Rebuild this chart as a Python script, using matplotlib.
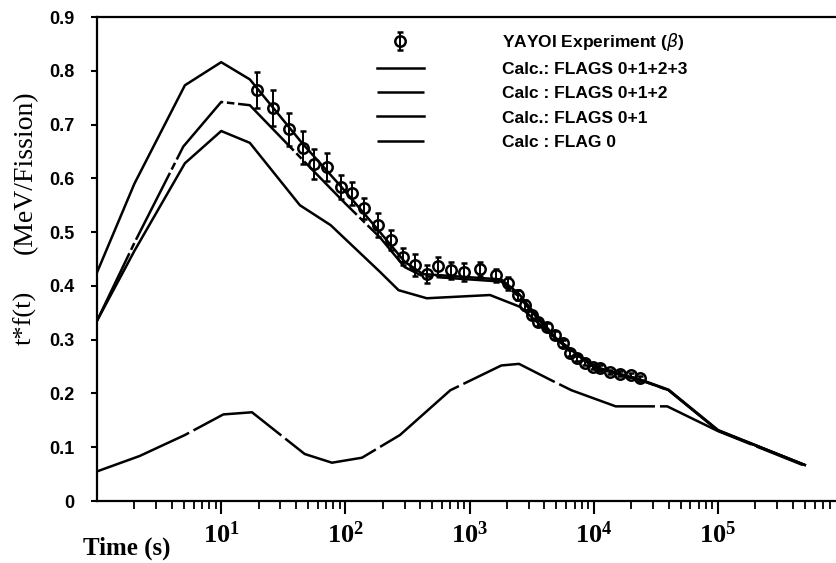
import numpy as np
import matplotlib
matplotlib.use("Agg")
import matplotlib.pyplot as plt
from matplotlib.ticker import LogLocator, NullFormatter, FuncFormatter, FixedLocator

# ---------------- data ----------------
exp_t = [19.4, 26, 35, 45.4, 56, 71, 92, 113, 142, 182, 232, 293, 364, 452, 561, 710, 903,
         1216, 1622, 2050, 2470, 2800, 3170, 3580, 4180, 4880, 5690, 6440, 7300, 8500, 9800,
         11200, 13500, 16200, 20000, 23500]
exp_y = [0.764, 0.731, 0.691, 0.657, 0.626, 0.621, 0.584, 0.572, 0.544, 0.513, 0.485, 0.454,
         0.439, 0.422, 0.437, 0.429, 0.426, 0.432, 0.420, 0.405, 0.383, 0.364, 0.346, 0.333,
         0.324, 0.309, 0.293, 0.275, 0.265, 0.257, 0.250, 0.247, 0.240, 0.237, 0.234, 0.228]
exp_err = [0.033, 0.033, 0.031, 0.031, 0.028, 0.026, 0.022, 0.021, 0.020, 0.022, 0.019, 0.016,
           0.020, 0.017, 0.017, 0.016, 0.016, 0.013, 0.012, 0.012, 0.010, 0.009, 0.008, 0.008,
           0.007, 0.007, 0.006, 0.006, 0.005, 0.005, 0.005, 0.005, 0.004, 0.004, 0.004, 0.004]

flags0123_t = [1, 2, 5.1, 10, 17, 45, 92, 182, 300, 420, 1800, 2500, 3000, 5000, 10000,
               25000, 40000, 100000, 500000]
flags0123_y = [0.425, 0.59, 0.773, 0.816, 0.784, 0.665, 0.585, 0.505, 0.445, 0.422, 0.412,
               0.385, 0.362, 0.302, 0.250, 0.224, 0.207, 0.132, 0.067]

flags012_t = [1, 2, 4.95, 10, 17, 45, 100, 190, 300, 420, 1800, 2500, 3000, 5000, 10000,
              25000, 40000, 100000, 500000]
flags012_y = [0.335, 0.48, 0.659, 0.742, 0.736, 0.635, 0.553, 0.49, 0.435, 0.418, 0.408,
              0.380, 0.358, 0.300, 0.249, 0.223, 0.206, 0.131, 0.067]

flags01_t = [1, 2, 5.1, 10, 17, 43, 76, 190, 268, 452, 1460, 2550, 4500, 10000, 25000,
             40000, 100000, 500000]
flags01_y = [0.335, 0.465, 0.628, 0.688, 0.666, 0.55, 0.513, 0.426, 0.392, 0.377, 0.383,
             0.361, 0.310, 0.249, 0.223, 0.206, 0.131, 0.067]

flag0_t = [1, 2.2, 5.1, 10.4, 17.7, 47, 78, 136, 275, 700, 1800, 2500, 4500, 6600, 15000,
           39000, 100000, 480000]
flag0_y = [0.055, 0.0836, 0.1227, 0.161, 0.165, 0.0874, 0.0712, 0.0805, 0.1227, 0.206,
           0.252, 0.255, 0.225, 0.206, 0.176, 0.176, 0.130, 0.067]

labels = ["YAYOI Experiment ($\\beta$)", "Calc.: FLAGS 0+1+2+3", "Calc : FLAGS 0+1+2",
          "Calc.: FLAGS 0+1", "Calc : FLAG 0"]
yticks = [0, 0.1, 0.2, 0.3, 0.4, 0.5, 0.6, 0.7, 0.8, 0.9]
xticks = [1e1, 1e2, 1e3, 1e4, 1e5]

# ---------------- figure ----------------
W, H = 836, 563
fig = plt.figure(figsize=(W / 100, H / 100), dpi=100)
ax = fig.add_axes([97 / W, (H - 501) / H, (W - 97) / W, (501 - 17) / H])
ax.set_xscale("log")
ax.set_xlim(1, 10 ** 5.95)
ax.set_ylim(0, 0.9)

lw = 1.8
l1, = ax.plot(flags0123_t, flags0123_y, color="black", lw=lw, ls="-")
l2, = ax.plot(flags012_t, flags012_y, color="black", lw=lw, dashes=(30, 1.5, 3, 1.5))
l3, = ax.plot(flags01_t, flags01_y, color="black", lw=lw, ls="-")
l4, = ax.plot(flag0_t, flag0_y, color="black", lw=lw, dashes=(40, 2))
eb = ax.errorbar(exp_t, exp_y, yerr=exp_err, fmt="o", ms=7.5, mfc="none", mec="black",
                 mew=1.8, color="black", ecolor="black", elinewidth=1.4, capsize=2.5,
                 capthick=1.6, zorder=5)

for s in ["left", "bottom", "top"]:
    ax.spines[s].set_linewidth(1.6)
ax.spines["right"].set_visible(False)

ax.xaxis.set_major_locator(FixedLocator(xticks))
ax.xaxis.set_major_formatter(FuncFormatter(
    lambda v, p: r"$\mathregular{10^{%d}}$" % int(round(np.log10(v)))))
ax.xaxis.set_minor_locator(LogLocator(base=10, subs=np.arange(2, 10), numticks=20))
ax.xaxis.set_minor_formatter(NullFormatter())
ax.tick_params(axis="x", which="major", direction="out", length=9, width=1.5, pad=6,
               top=False)
ax.tick_params(axis="x", which="minor", direction="out", length=6, width=1.3, top=False)
for lab in ax.get_xticklabels():
    lab.set_fontfamily("Liberation Serif")
    lab.set_fontsize(19)
    lab.set_fontweight("bold")

ax.set_yticks(yticks)
ax.yaxis.set_major_formatter(FuncFormatter(lambda v, p: "0" if abs(v) < 1e-9 else f"{v:.1f}"))
ax.tick_params(axis="y", which="major", direction="out", length=4, width=1.5, pad=12,
               right=False)
for lab in ax.get_yticklabels():
    lab.set_fontfamily("Liberation Sans")
    lab.set_fontsize(13)
    lab.set_fontweight("bold")

fig.text(25 / W, (H - 318) / H, "t*f(t)", rotation=90, ha="center", va="center",
         fontfamily="Liberation Serif", fontsize=19)
fig.text(25 / W, (H - 172) / H, "(MeV/Fission)", rotation=90, ha="center", va="center",
         fontfamily="Liberation Serif", fontsize=20)
fig.text(127 / W, (H - 548) / H, "Time (s)", ha="center", va="center",
         fontfamily="Liberation Serif", fontsize=18, fontweight="bold")

leg = ax.legend([eb, l1, l2, l3, l4], labels, loc="upper left",
                bbox_to_anchor=(377 / W, (H - 31) / H), bbox_transform=fig.transFigure,
                frameon=False, borderpad=0, borderaxespad=0, handlelength=2.7,
                handletextpad=4.5, labelspacing=0.52,
                prop={"family": "Liberation Sans", "size": 12.5, "weight": "bold"})

fig.savefig("out.png", dpi=100)
